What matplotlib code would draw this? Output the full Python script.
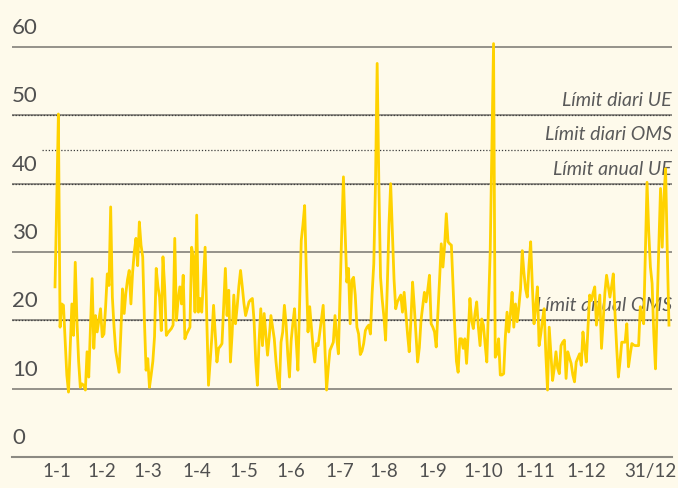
import matplotlib
matplotlib.use('Agg')
from matplotlib import pyplot as plt
from matplotlib import transforms
import numpy as np

# daily values
jan = [24.9, 37, 50.2, 19, 22.4, 22.2, 17, 12, 9.5, 16, 22.4, 17.8, 28.5, 20, 14, 10.2,
       10.7, 10.5, 9.8, 15.4, 11.7, 19, 26.1, 15.9, 20.7, 18.3, 20, 21.7, 17.6, 18, 22]
feb = [26.8, 25.1, 36.6, 23.4, 19, 15.5, 14, 12.4, 18, 24.6, 21, 24, 26, 27.3, 22.4, 27,
       30, 32, 28, 34.4, 31, 29.3, 20, 12.7, 14.4, 10.2, 12, 14]
mar = [17.6, 27.6, 25, 23.4, 18.5, 29.3, 24.9, 17.8, 18.2, 18.5, 18.8, 19.3, 32, 20, 23,
       24.9, 22.4, 26.6, 17.3, 18, 18.5, 19, 30.7, 29.3, 21.2, 35.4, 21.2, 23.2, 21.2, 26, 30.7]
apr = [20, 10.5, 14, 17.6, 22.2, 18, 13.9, 15.9, 16.2, 16.6, 22, 27.6, 20.7, 24.4, 13.9,
       18, 23.7, 19.5, 22, 25, 27.3, 25, 22.5, 20.7, 21.7, 22.7, 23, 23.2, 20, 14]
may = [10.5, 17, 21.7, 16.3, 21, 18, 14.9, 17.5, 20.7, 19, 17.3, 14, 11.5, 10, 16.8, 18.3,
       22.2, 19.5, 15, 11.7, 17, 19.5, 21.7, 17, 12.7, 22, 31.7, 34, 36.8, 27, 18.3]
jun = [22, 19, 16, 13.9, 16.6, 16.3, 18.3, 20.2, 22.2, 16, 9.8, 13, 15.6, 16.2, 16.8, 20.7,
       17.5, 15.1, 24, 33, 41, 33, 25.6, 27.6, 19.5, 25.9, 26.3, 23.7, 19, 18]
jul = [15, 15.5, 16.6, 18.5, 19, 19.3, 18, 23.9, 28.3, 40, 57.6, 40, 26.3, 23, 20.5, 17.1,
       25, 34, 40, 33, 26, 21.7, 22.7, 23.2, 23.7, 21.2, 24.1, 21, 18, 15.4, 20]
aug = [25.6, 22, 18, 13.9, 16, 20, 22, 24.1, 22.7, 24.5, 26.6, 19.5, 19, 18.3, 16.1, 21,
       26, 31.2, 27.8, 31, 35.6, 31.5, 31.2, 31, 25, 19, 14, 12.4, 17.3, 17.3, 15.9]
sep = [17.3, 13.7, 18, 23.2, 20, 18.8, 21, 22.7, 19, 16.3, 20.2, 19.3, 16.5, 13.9, 22,
       29.8, 45, 60.5, 14.6, 15.1, 17.3, 12, 12, 12.2, 17.6, 21.2, 18.3, 21, 24.1, 19]
oct_ = [22.4, 19.8, 22, 24.6, 30.2, 27, 24.6, 23.4, 28, 31.5, 25, 19.5, 22, 24.9, 16.3, 18,
        20, 21.7, 15, 9.8, 19, 15, 11.2, 13, 15.4, 13, 12.2, 16.3, 16.8, 17.1, 11.5]
nov = [15.4, 14.5, 13.7, 12, 11, 13.9, 14.5, 15.1, 13.4, 18.3, 16, 13.9, 19, 23.7, 22.9,
       24, 24.9, 19.3, 21.5, 23.7, 15.9, 20, 24, 26.6, 25, 23.4, 25, 26.8, 21, 16]
dec = [11.7, 14, 16.8, 16.8, 16.8, 19.5, 13.2, 15, 16.6, 16.4, 16.3, 16.3, 16.3, 22, 20.5,
       19.5, 30, 40.2, 33, 27.8, 25.4, 18, 12.9, 22, 31, 39.3, 30.7, 38, 42.2, 30, 19.3]

tick_days = [2, 29, 56, 85, 113, 141, 170, 196, 225, 255, 286, 316, 354]
tick_labels = ['1-1', '1-2', '1-3', '1-4', '1-5', '1-6', '1-7', '1-8', '1-9', '1-10',
               '1-11', '1-12', '31/12']
y_ticks = [0, 10, 20, 30, 40, 50, 60]

limit_values = [50, 45, 40, 20]
limit_names = ['Límit diari UE', 'Límit diari OMS', 'Límit anual UE', 'Límit anual OMS']

values = np.array(jan + feb + mar + apr + may + jun + jul + aug + sep + oct_ + nov + dec)
days = np.arange(1, len(values) + 1)

BG = '#FEFAEB'
TXT = '#505050'
plt.rcParams['font.family'] = ['Lato', 'DejaVu Sans']

fig = plt.figure(figsize=(6.78, 4.88), dpi=100, facecolor=BG)
ax = fig.add_axes([12 / 678, 31 / 488, 660 / 678, (457 - 40.2) / 488])
ax.set_facecolor(BG)
ax.set_xlim(-24.5, 366.8)
ax.set_ylim(0, 61)

for s in ['top', 'right', 'left']:
    ax.spines[s].set_visible(False)
ax.spines['bottom'].set_color('#8c8a82')
ax.spines['bottom'].set_linewidth(1.5)

# gridlines every 10
for v in y_ticks[1:]:
    ax.axhline(v, color='#8c8a82', lw=1.3, zorder=1)

# limit lines (dotted) with labels; the 45 one has no gridline under it and starts later
ytr = transforms.blended_transform_factory(ax.transAxes, ax.transData)
for v, name in zip(limit_values, limit_names):
    start = 0.0 if v % 10 == 0 else 0.045
    ax.axhline(v, xmin=start, color='#3c3c3c', lw=0.9, ls=(0, (1, 1.5)), zorder=2)
    ax.text(1.0, v + 0.9, name, transform=ytr, ha='right', va='bottom',
            fontsize=14, style='italic', color='#5a5a5a', zorder=3)

ax.plot(days, values, color='#FFD200', lw=2.0, zorder=4, clip_on=False)

# y labels sit above the gridlines, at the left
for v in y_ticks:
    ax.text(0.0, v + 1.3, str(v), transform=ytr, ha='left', va='bottom',
            fontsize=16, color=TXT)
ax.set_yticks([])

ax.set_xticks(tick_days)
ax.set_xticklabels(tick_labels, fontsize=13.5, color=TXT)
ax.tick_params(axis='x', length=0, pad=4)

fig.savefig('out.png', dpi=100, facecolor=BG)
